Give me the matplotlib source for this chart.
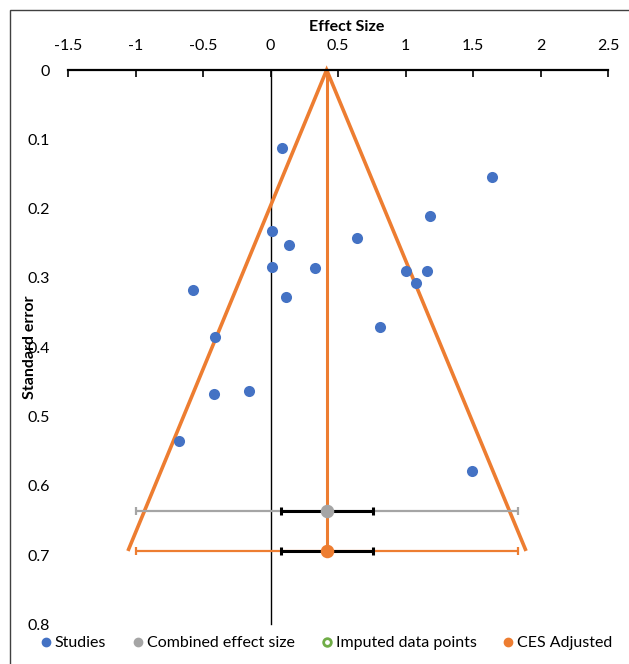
import matplotlib
matplotlib.use('Agg')
import matplotlib.pyplot as plt
from matplotlib.lines import Line2D
from matplotlib.patches import Rectangle

# ---- data ----
studies_es = [0.083, 1.638, 1.181, 0.009, 0.139, 0.641, 0.011, 0.330, 1.004,
              1.157, 1.075, -0.572, 0.115, 0.811, -0.409, -0.421, -0.159,
              -0.676, 1.490]
studies_se = [0.112, 0.155, 0.210, 0.232, 0.253, 0.242, 0.284, 0.286, 0.290,
              0.290, 0.308, 0.317, 0.327, 0.371, 0.385, 0.468, 0.463,
              0.535, 0.578]
imputed_es = []
imputed_se = []
ces_es = 0.416
ces_se = 0.636
ces_adj_es = 0.416
ces_adj_se = 0.694
ci95_low, ci95_high = -0.998, 1.831
ci_inner_low, ci_inner_high = 0.078, 0.757
funnel_left, funnel_right = -1.056, 1.893
xticks = [-1.5, -1, -0.5, 0, 0.5, 1, 1.5, 2, 2.5]
xticklabels = ['-1.5', '-1', '-0.5', '0', '0.5', '1', '1.5', '2', '2.5']
yticks = [0, 0.1, 0.2, 0.3, 0.4, 0.5, 0.6, 0.7, 0.8]
yticklabels = ['0', '0.1', '0.2', '0.3', '0.4', '0.5', '0.6', '0.7', '0.8']

BLUE = '#4472C4'
ORANGE = '#ED7D31'
GRAY = '#A5A5A5'
GREEN = '#70AD47'
FS = 11.5

plt.rcParams['font.family'] = ['Lato', 'DejaVu Sans']
plt.rcParams['axes.unicode_minus'] = False

W, H = 629, 664
fig = plt.figure(figsize=(W / 100, H / 100), dpi=100)
fig.patches.append(Rectangle((10 / W, -0.1), 1.2, 1.1 - 10 / H,
                             transform=fig.transFigure, fill=False,
                             edgecolor='#404040', lw=1.0))

ax = fig.add_axes([68 / W, 1 - 624.4 / H, 540 / W, 554.4 / H])
ax.set_xlim(-1.5, 2.5)
ax.set_ylim(0.8, 0)
for s in ['left', 'right', 'bottom']:
    ax.spines[s].set_visible(False)
ax.spines['top'].set_linewidth(1.6)
ax.xaxis.tick_top()
ax.set_xticks(xticks)
ax.set_xticklabels(xticklabels)
ax.set_yticks(yticks)
ax.set_yticklabels(yticklabels)
ax.tick_params(axis='x', direction='in', length=5, width=1.2, pad=12,
               labelsize=FS, color='black')
ax.tick_params(axis='y', length=0, pad=13, labelsize=FS)

ax.xaxis.set_label_position('top')
ax.set_xlabel('Effect Size', fontweight='bold', fontsize=FS)
ax.xaxis.label.set_verticalalignment('center')
ax.xaxis.set_label_coords((347 - 68) / 540, 1 + 43 / 554.4)
ax.set_ylabel('Standard error', fontweight='bold', fontsize=FS)
ax.yaxis.label.set_verticalalignment('center')
ax.yaxis.set_label_coords((29.5 - 68) / 540, 0.5)

# vertical axis line at x = 0
ax.plot([0, 0], [0, 0.8], color='black', lw=1.0, zorder=1, clip_on=False)

# funnel
ax.plot([funnel_left, ces_adj_es, funnel_right], [ces_adj_se, 0, ces_adj_se],
        color=ORANGE, lw=2.6, solid_joinstyle='miter', solid_capstyle='butt',
        clip_on=False, zorder=2)
ax.plot([ces_adj_es, ces_adj_es], [0, ces_adj_se], color=ORANGE, lw=2.2,
        zorder=2, clip_on=False)

# confidence intervals
ax.errorbar([ces_es], [ces_se],
            xerr=[[ces_es - ci95_low], [ci95_high - ces_es]],
            fmt='none', ecolor=GRAY, elinewidth=1.6, capsize=3, capthick=1.6,
            zorder=3)
ax.errorbar([ces_adj_es], [ces_adj_se],
            xerr=[[ces_adj_es - ci95_low], [ci95_high - ces_adj_es]],
            fmt='none', ecolor=ORANGE, elinewidth=1.6, capsize=3, capthick=1.6,
            zorder=3)
for se, es in [(ces_se, ces_es), (ces_adj_se, ces_adj_es)]:
    ax.errorbar([es], [se],
                xerr=[[es - ci_inner_low], [ci_inner_high - es]],
                fmt='none', ecolor='black', elinewidth=2.2, capsize=3,
                capthick=2.2, zorder=4)

# points
ax.scatter(studies_es, studies_se, s=64, color=BLUE, zorder=5, linewidths=0)
ax.scatter(imputed_es, imputed_se, s=64, facecolors='none', edgecolors=GREEN,
           zorder=5)
ax.scatter([ces_es], [ces_se], s=95, color=GRAY, zorder=6, linewidths=0)
ax.scatter([ces_adj_es], [ces_adj_se], s=95, color=ORANGE, zorder=6,
           linewidths=0)

handles = [
    Line2D([], [], marker='o', ls='none', color=BLUE, markersize=6),
    Line2D([], [], marker='o', ls='none', color=GRAY, markersize=6),
    Line2D([], [], marker='o', ls='none', markerfacecolor='none',
           markeredgecolor=GREEN, markeredgewidth=2, markersize=5.5),
    Line2D([], [], marker='o', ls='none', color=ORANGE, markersize=6),
]
labels = ['Studies', 'Combined effect size', 'Imputed data points',
          'CES Adjusted']
fig.legend(handles, labels, loc='center', bbox_to_anchor=(326 / W, 1 - 643 / H),
           ncol=4, frameon=False, handletextpad=0.16, columnspacing=1.6,
           handlelength=0.8, fontsize=FS, borderpad=0, borderaxespad=0)

fig.savefig('out.png', dpi=100)
